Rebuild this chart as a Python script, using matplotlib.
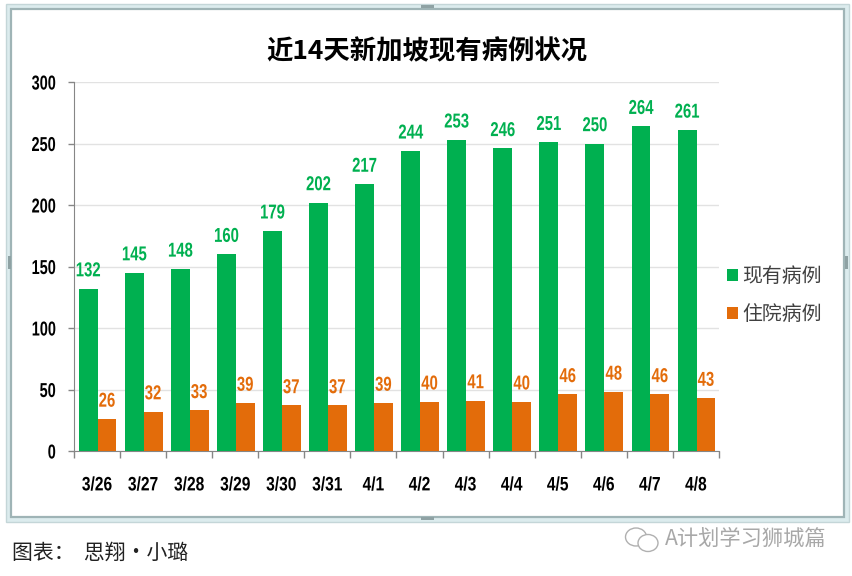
import matplotlib
matplotlib.use('Agg')
import matplotlib.pyplot as plt
from matplotlib.patches import Rectangle, Ellipse
from matplotlib.patheffects import AbstractPathEffect
from matplotlib.transforms import Affine2D
import numpy as np

dates = ['3/26', '3/27', '3/28', '3/29', '3/30', '3/31', '4/1', '4/2',
         '4/3', '4/4', '4/5', '4/6', '4/7', '4/8']
current_cases = [132, 145, 148, 160, 179, 202, 217, 244, 253, 246, 251, 250, 264, 261]
hospital_cases = [26, 32, 33, 39, 37, 37, 39, 40, 41, 40, 46, 48, 46, 43]
yticks = [0, 50, 100, 150, 200, 250, 300]

GREEN = '#00b050'
ORANGE = '#e36c0a'
W, H = 853, 576
CJK = ['Noto Sans CJK SC', 'DejaVu Sans']
NUMS = ['Liberation Sans', 'DejaVu Sans']

plt.rcParams['font.family'] = CJK


class Squeeze(AbstractPathEffect):
    # the numbers in the chart are a condensed face, none is installed
    def __init__(self, sx, anchor='center'):
        super().__init__()
        self.sx = sx
        self.anchor = anchor

    def draw_path(self, renderer, gc, tpath, affine, rgbFace=None):
        ext = tpath.get_extents()
        a = ext.x1 if self.anchor == 'right' else (ext.x0 + ext.x1) / 2
        t = Affine2D().translate(-a, 0).scale(self.sx, 1).translate(a, 0)
        renderer.draw_path(gc, tpath, t + affine, rgbFace)


fig = plt.figure(figsize=(W / 100, H / 100), dpi=100)


def box(x0, y0, x1, y1, **kw):
    # pixel coordinates, y from the top
    r = Rectangle((x0 / W, 1 - y1 / H), (x1 - x0) / W, (y1 - y0) / H,
                  transform=fig.transFigure, zorder=-2, **kw)
    fig.add_artist(r)


# window frame round the chart
box(6, 4, 849, 522, facecolor='#dcecee', edgecolor='#c4d6d8', linewidth=1)
box(11, 9, 844, 517, facecolor='white', edgecolor='#9fb4b6', linewidth=1.6)
# resize handles
for hx0, hy0, hx1, hy1 in [(421, 5, 434, 8), (421, 517, 434, 520), (8, 256, 11, 269), (845, 256, 848, 269)]:
    box(hx0, hy0, hx1, hy1, facecolor='#8fa2a4', edgecolor='none')

ax = fig.add_axes([74 / W, 1 - 451 / H, (719 - 74) / W, (451 - 82) / H])
ax.patch.set_alpha(0)
x = np.arange(len(dates)) + 0.012
bar_w = 0.41
b1 = ax.bar(x - bar_w / 2, current_cases, bar_w, color=GREEN, label='现有病例', zorder=3)
b2 = ax.bar(x + bar_w / 2, hospital_cases, bar_w, color=ORANGE, label='住院病例', zorder=3)

ax.bar_label(b1, padding=6, color=GREEN, fontsize=14.5, fontweight='bold', family=NUMS,
             path_effects=[Squeeze(0.74)])
ax.bar_label(b2, padding=6, color=ORANGE, fontsize=14.5, fontweight='bold', family=NUMS,
             path_effects=[Squeeze(0.74)])

ax.set_xlim(-0.5, len(dates) - 0.5)
ax.set_ylim(0, 300)
ax.set_yticks(yticks)
ax.set_yticklabels(yticks, fontsize=14.5, fontweight='bold', family=NUMS)
for lab in ax.get_yticklabels():
    lab.set_path_effects([Squeeze(0.72, 'right')])
ax.set_xticks(np.arange(len(dates) + 1) - 0.5)
ax.set_xticklabels([])
ax.set_xticks(np.arange(len(dates)), dates, minor=True, fontsize=14, fontweight='bold', family=NUMS)
for lab in ax.get_xticklabels(minor=True):
    lab.set_path_effects([Squeeze(0.8)])
ax.tick_params(axis='x', which='major', length=5, color='#868686', width=1)
ax.tick_params(axis='x', which='minor', length=0, pad=19)
ax.tick_params(axis='y', length=4.5, color='#868686', width=1, pad=8.5)
ax.grid(axis='y', color='#e2e2e2', linewidth=1, zorder=0)
ax.set_axisbelow(True)
for side in ['top', 'right']:
    ax.spines[side].set_visible(False)
for side in ['left', 'bottom']:
    ax.spines[side].set_color('#868686')

fig.text(427 / W, 1 - 52 / H, '近14天新加坡现有病例状况', ha='center', va='center',
         fontsize=19, fontweight='bold', color='black')

fig.legend(handles=[b1, b2], loc='center left', bbox_to_anchor=(727 / W, 1 - 295.5 / H),
           frameon=False, fontsize=14.3, labelcolor='#404040', handlelength=0.56,
           handleheight=0.56, handletextpad=0.2, labelspacing=0.82, borderpad=0,
           borderaxespad=0)

fig.text(12 / W, 1 - 553 / H, '图表：  思翔•小璐', ha='left', va='center', fontsize=15,
         color='#222222')

# watermark icon, two speech bubbles
for cx, cy, w, h in [(636, 537, 21, 18), (648, 543, 20, 17)]:
    fig.add_artist(Ellipse((cx / W, 1 - cy / H), w / W, h / H, transform=fig.transFigure,
                           facecolor='white', edgecolor='#b0b0b0', linewidth=1))
fig.text(665 / W, 1 - 539 / H, 'A计划学习狮城篇', ha='left', va='center', fontsize=15.3,
         color='#a8a8a8')

fig.savefig('out.png', dpi=100)
